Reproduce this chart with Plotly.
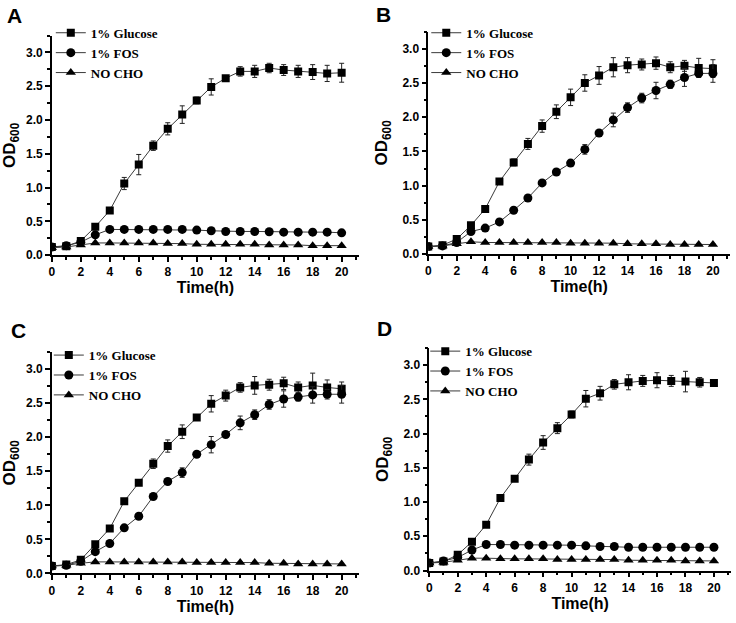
import plotly.graph_objects as go

time_h = list(range(21))

# Panel A
a_glucose = [0.12, 0.13, 0.21, 0.42, 0.66, 1.06, 1.34, 1.62, 1.87, 2.08, 2.29, 2.49, 2.62, 2.72, 2.72, 2.77, 2.74, 2.72, 2.71, 2.69, 2.70]
a_glucose_err = [0.01, 0.01, 0.02, 0.02, 0.02, 0.09, 0.15, 0.07, 0.09, 0.13, 0.05, 0.12, 0.03, 0.07, 0.09, 0.07, 0.08, 0.09, 0.11, 0.12, 0.14]
a_fos = [0.12, 0.14, 0.19, 0.30, 0.38, 0.38, 0.38, 0.38, 0.38, 0.38, 0.37, 0.36, 0.35, 0.35, 0.35, 0.345, 0.34, 0.34, 0.34, 0.34, 0.33]
a_fos_err = [0.01] * 21
a_nocho = [0.11, 0.12, 0.15, 0.18, 0.18, 0.18, 0.18, 0.18, 0.17, 0.17, 0.16, 0.16, 0.16, 0.16, 0.16, 0.15, 0.15, 0.15, 0.14, 0.14, 0.14]
a_nocho_err = [0.01] * 21

# Panel B
b_glucose = [0.11, 0.13, 0.22, 0.42, 0.66, 1.06, 1.34, 1.61, 1.87, 2.08, 2.29, 2.50, 2.61, 2.73, 2.76, 2.77, 2.79, 2.73, 2.75, 2.72, 2.71]
b_glucose_err = [0.01, 0.01, 0.02, 0.02, 0.02, 0.04, 0.05, 0.08, 0.09, 0.10, 0.12, 0.12, 0.13, 0.14, 0.11, 0.08, 0.09, 0.08, 0.08, 0.14, 0.13]
b_fos = [0.11, 0.12, 0.17, 0.33, 0.38, 0.47, 0.64, 0.82, 1.04, 1.20, 1.33, 1.53, 1.77, 1.96, 2.14, 2.28, 2.39, 2.48, 2.58, 2.64, 2.64]
b_fos_err = [0.01, 0.01, 0.01, 0.02, 0.02, 0.02, 0.02, 0.03, 0.03, 0.03, 0.03, 0.07, 0.03, 0.10, 0.07, 0.07, 0.12, 0.06, 0.13, 0.05, 0.13]
b_nocho = [0.11, 0.12, 0.15, 0.18, 0.17, 0.17, 0.17, 0.17, 0.17, 0.17, 0.16, 0.16, 0.16, 0.16, 0.15, 0.15, 0.15, 0.14, 0.14, 0.14, 0.14]
b_nocho_err = [0.01] * 21

# Panel C
c_glucose = [0.11, 0.13, 0.20, 0.43, 0.66, 1.06, 1.33, 1.61, 1.87, 2.08, 2.29, 2.49, 2.61, 2.73, 2.76, 2.77, 2.79, 2.73, 2.76, 2.73, 2.71]
c_glucose_err = [0.01, 0.01, 0.02, 0.02, 0.02, 0.03, 0.04, 0.07, 0.09, 0.10, 0.03, 0.12, 0.08, 0.07, 0.13, 0.08, 0.09, 0.08, 0.18, 0.11, 0.10]
c_fos = [0.11, 0.12, 0.18, 0.32, 0.44, 0.67, 0.84, 1.13, 1.35, 1.48, 1.75, 1.89, 2.04, 2.21, 2.33, 2.48, 2.56, 2.59, 2.62, 2.63, 2.63]
c_fos_err = [0.01, 0.01, 0.01, 0.02, 0.02, 0.02, 0.02, 0.04, 0.03, 0.07, 0.03, 0.12, 0.03, 0.10, 0.07, 0.07, 0.12, 0.06, 0.12, 0.07, 0.13]
c_nocho = [0.11, 0.12, 0.15, 0.17, 0.17, 0.17, 0.17, 0.17, 0.17, 0.17, 0.16, 0.16, 0.16, 0.16, 0.16, 0.15, 0.15, 0.14, 0.14, 0.14, 0.14]
c_nocho_err = [0.01] * 21

# Panel D
d_glucose = [0.11, 0.13, 0.23, 0.42, 0.67, 1.06, 1.34, 1.62, 1.87, 2.08, 2.28, 2.51, 2.59, 2.72, 2.75, 2.77, 2.78, 2.77, 2.76, 2.75, 2.74]
d_glucose_err = [0.01, 0.01, 0.02, 0.02, 0.02, 0.04, 0.03, 0.08, 0.10, 0.08, 0.05, 0.12, 0.10, 0.07, 0.11, 0.08, 0.11, 0.08, 0.15, 0.07, 0.05]
d_fos = [0.11, 0.14, 0.19, 0.30, 0.38, 0.38, 0.37, 0.37, 0.37, 0.37, 0.37, 0.36, 0.35, 0.35, 0.34, 0.34, 0.34, 0.34, 0.34, 0.34, 0.34]
d_fos_err = [0.01] * 21
d_nocho = [0.11, 0.12, 0.15, 0.18, 0.18, 0.17, 0.17, 0.17, 0.17, 0.16, 0.16, 0.16, 0.16, 0.16, 0.15, 0.15, 0.15, 0.15, 0.14, 0.14, 0.14]
d_nocho_err = [0.01] * 21

series_names = ["1% Glucose", "1% FOS", "NO CHO"]
panel_labels = ["A", "B", "C", "D"]

panels = [
    [(a_glucose, a_glucose_err), (a_fos, a_fos_err), (a_nocho, a_nocho_err)],
    [(b_glucose, b_glucose_err), (b_fos, b_fos_err), (b_nocho, b_nocho_err)],
    [(c_glucose, c_glucose_err), (c_fos, c_fos_err), (c_nocho, c_nocho_err)],
    [(d_glucose, d_glucose_err), (d_fos, d_fos_err), (d_nocho, d_nocho_err)],
]

W, H = 736, 623
# pixel geometry of each panel: (left, right, top, bottom)
geom = [
    (49, 357.5, 36, 258),
    (427, 730, 32, 257),
    (49, 357.5, 356, 580),
    (428, 731, 352, 577),
]
label_pos = [(2, 2), (373, 1), (6, 321), (374, 319)]
legend_pos = [(48, 18), (425, 18), (46, 344), (424, 340)]

symbols = ["square", "circle", "triangle-up"]
sizes = [8, 9, 9]

fig = go.Figure()
layout = {}
for p, series in enumerate(panels):
    idx = "" if p == 0 else str(p + 1)
    xa, ya = "x" + idx, "y" + idx
    lg = "legend" + idx
    for s, (vals, errs) in enumerate(series):
        fig.add_trace(go.Scatter(
            x=time_h, y=vals, name=series_names[s],
            mode="lines+markers", xaxis=xa, yaxis=ya, legend=lg,
            line=dict(color="#3a3a3a", width=1),
            marker=dict(symbol=symbols[s], size=sizes[s], color="black"),
            error_y=dict(type="data", array=errs, visible=True, color="#222", thickness=1, width=2.5),
        ))
    l, r, t, b = geom[p]
    common = dict(showline=True, linecolor="black", linewidth=1.5, ticks="outside",
                  ticklen=5, tickwidth=1.5, tickcolor="black", showgrid=False, zeroline=False,
                  tickfont=dict(family="Arial, Liberation Sans", size=12, color="black", weight="bold"))
    layout["xaxis" + idx] = dict(
        domain=[l / W, r / W], range=[0, 21.2], anchor=ya, dtick=2, tick0=0,
        minor=dict(ticks="outside", ticklen=3, tickwidth=1.5, dtick=1, tick0=0, tickcolor="black"),
        title=dict(text="Time(h)", standoff=3, font=dict(family="Arial, Liberation Sans", size=16, color="black", weight="bold")),
        **common)
    layout["yaxis" + idx] = dict(
        domain=[1 - b / H, 1 - t / H], range=[0, 3.25], anchor=xa, dtick=0.5, tick0=0, tickformat=".1f",
        minor=dict(ticks="outside", ticklen=3, tickwidth=1.5, dtick=0.25, tick0=0, tickcolor="black"),
        title=dict(text="OD<sub>600</sub>", standoff=10, font=dict(family="Arial, Liberation Sans", size=17, color="black", weight="bold")),
        **common)
    lx, ly = legend_pos[p]
    layout[lg] = dict(x=lx / W, y=1 - ly / H, xanchor="left", yanchor="top",
                      bgcolor="rgba(0,0,0,0)", tracegroupgap=0, itemwidth=30,
                      font=dict(family="Times New Roman, Liberation Serif", size=13, color="black", weight="bold"))

annotations = []
for p, lab in enumerate(panel_labels):
    x, y = label_pos[p]
    annotations.append(dict(text=lab, x=x / W, y=1 - y / H, xref="paper", yref="paper",
                            xanchor="left", yanchor="top", showarrow=False,
                            font=dict(family="Arial, Liberation Sans", size=21, color="black", weight="bold")))

fig.update_layout(width=W, height=H, margin=dict(l=0, r=0, t=0, b=0),
                  paper_bgcolor="white", plot_bgcolor="white", showlegend=True,
                  annotations=annotations, **layout)
fig.write_html("out.html", config={"displayModeBar": False},
               post_script="document.body.style.margin='0px';")
